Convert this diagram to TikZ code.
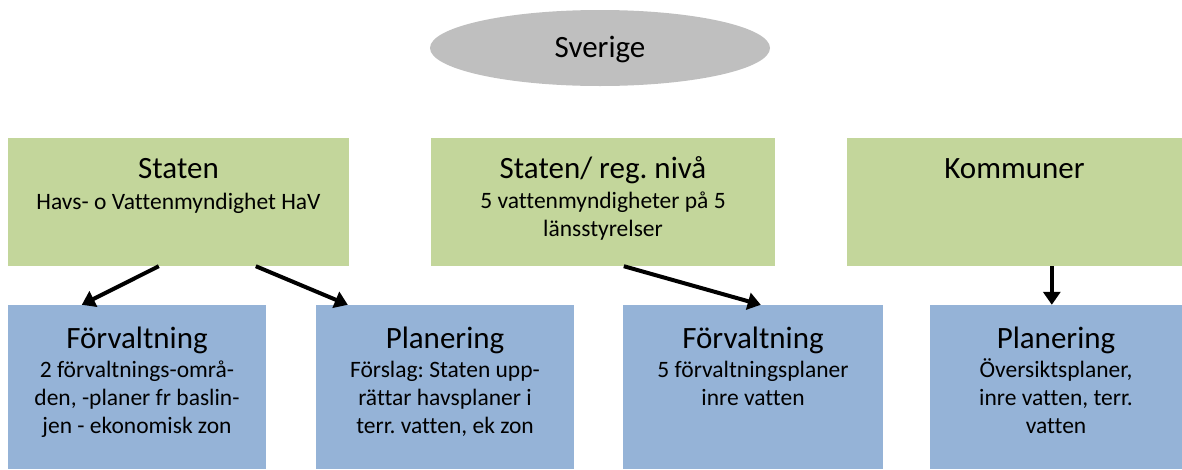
\documentclass[tikz,border=0pt]{standalone}
\usepackage{fontspec}
\setmainfont{Carlito}[Ligatures=NoCommon]
\frenchspacing
\usetikzlibrary{arrows.meta,shapes.geometric}
\definecolor{grn}{HTML}{C3D69B}
\definecolor{blu}{HTML}{95B3D7}
\definecolor{gry}{HTML}{BFBFBF}
\begin{document}
\frenchspacing
\begin{tikzpicture}[x=1pt,y=-1pt,
  gbox/.style={rectangle,fill=grn,draw=none,inner sep=0pt,minimum height=128pt},
  bbox/.style={rectangle,fill=blu,draw=none,inner sep=0pt,minimum height=164pt},
  head/.style={anchor=base,inner sep=0pt,font=\fontsize{31}{37}\selectfont},
  sub/.style={anchor=north,inner sep=0pt,align=center,font=\fontsize{23.5}{28.3}\selectfont},
  arr/.style={line width=4pt,-{Triangle[width=17pt,length=13pt]}}]
\useasboundingbox (0,0) rectangle (1182,469);
% top ellipse
\node[ellipse,fill=gry,draw=none,minimum width=340pt,minimum height=76pt,inner sep=0pt] (sv) at (600,48) {};
\node[head] (svt) at (600,57) {Sverige};
% green boxes
\node[gbox,minimum width=341pt] (g1) at (178.5,202) {};
\node[gbox,minimum width=344pt] (g2) at (603,202) {};
\node[gbox,minimum width=335pt] (g3) at (1014.5,202) {};
% blue boxes
\node[bbox,minimum width=258pt] (b1) at (137,387) {};
\node[bbox,minimum width=258pt] (b2) at (445,387) {};
\node[bbox,minimum width=260pt] (b3) at (753,387) {};
\node[bbox,minimum width=252pt] (b4) at (1056,387) {};
% texts green
\node[head] (g1h) at (178.5,178) {Staten};
\node[sub] (g1s) at (178.5,189) {\rule{0pt}{20pt}Havs- o Vattenmyndighet HaV};
\node[head] (g2h) at (603,178) {Staten/ reg. nivå};
\node[sub] (g2s) at (603,188) {\rule{0pt}{20pt}5 vattenmyndigheter på 5\\länsstyrelser};
\node[head] (g3h) at (1014.5,178) {Kommuner};
% texts blue
\node[head] (b1h) at (137,348) {Förvaltning};
\node[sub] (b1s) at (137,357) {\rule{0pt}{20pt}2 förvaltnings-områ-\\den, -planer fr baslin-\\jen - ekonomisk zon};
\node[head] (b2h) at (445,348) {Planering};
\node[sub] (b2s) at (445,357) {\rule{0pt}{20pt}Förslag: Staten upp-\\rättar havsplaner i\\terr. vatten, ek zon};
\node[head] (b3h) at (753,348) {Förvaltning};
\node[sub] (b3s) at (753,357) {\rule{0pt}{20pt}5 förvaltningsplaner\\inre vatten};
\node[head] (b4h) at (1056,348) {Planering};
\node[sub] (b4s) at (1056,357) {\rule{0pt}{20pt}Översiktsplaner,\\inre vatten, terr.\\vatten};
% arrows
\draw[arr] ([xshift=151pt]g1.south west) -- ([xshift=74pt]b1.north west);
\draw[arr] ([xshift=248pt]g1.south west) -- ([xshift=32pt]b2.north west);
\draw[arr] ([xshift=193pt]g2.south west) -- ([xshift=138pt]b3.north west);
\draw[arr] ([xshift=205pt]g3.south west) -- ([xshift=122pt]b4.north west);
\end{tikzpicture}
\end{document}
